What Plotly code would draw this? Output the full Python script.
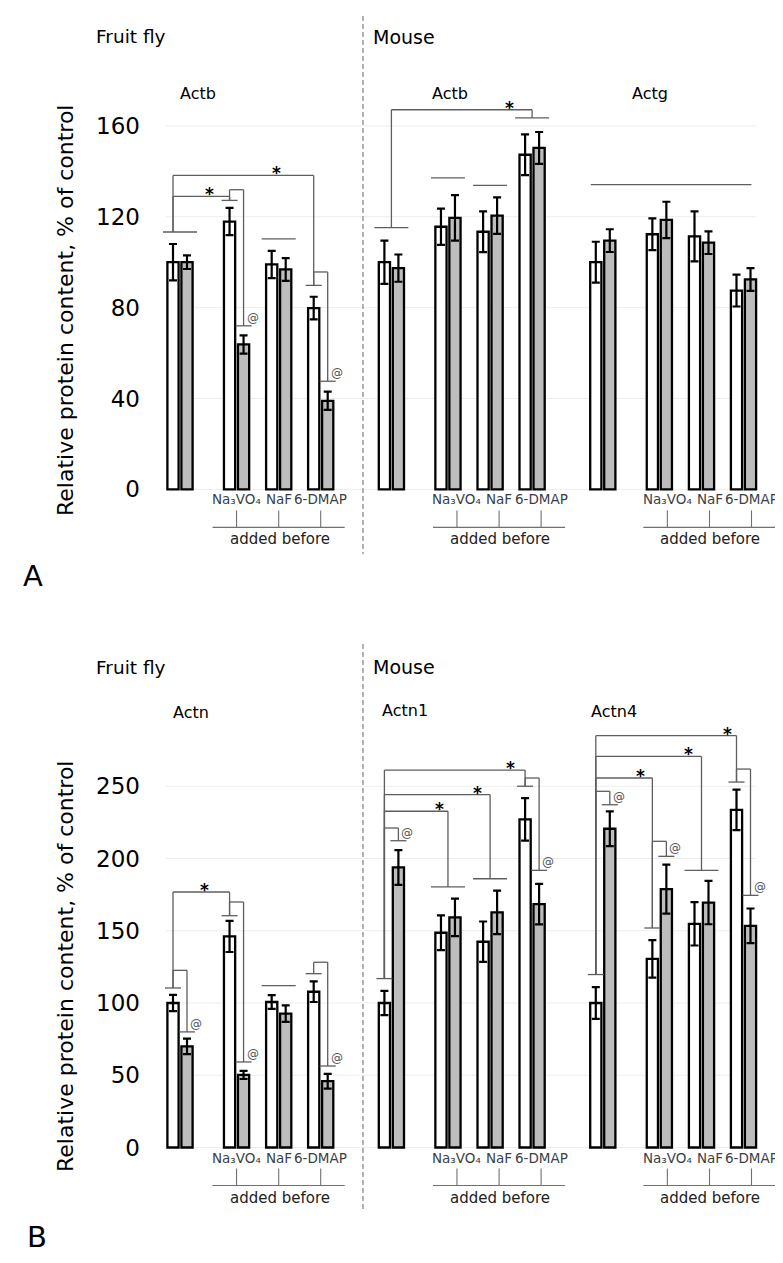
import plotly.graph_objects as go

# ---------------- data ----------------
CATS = ["control", "Na3VO4", "NaF", "6-DMAP"]
TREAT_LABELS = ["Na\u2083VO\u2084", "NaF", "6-DMAP"]
Y_TICKS_A = [0, 40, 80, 120, 160]
Y_TICKS_B = [0, 50, 100, 150, 200, 250]

# Panel A, fruit fly Actb
A_FLY_W = [100, 117.9, 99.0, 79.8]
A_FLY_WE = [8, 6, 6, 5]
A_FLY_G = [100, 63.8, 96.8, 39.0]
A_FLY_GE = [3, 4, 5, 4]
# Panel A, mouse Actb
A_ACTB_W = [100, 115.6, 113.4, 147.3]
A_ACTB_WE = [9.5, 8, 9, 9]
A_ACTB_G = [97.4, 119.5, 120.5, 150.3]
A_ACTB_GE = [6, 10, 8, 7]
# Panel A, mouse Actg
A_ACTG_W = [100, 112.3, 111.4, 87.5]
A_ACTG_WE = [9, 7, 11, 7]
A_ACTG_G = [109.5, 118.6, 108.6, 92.4]
A_ACTG_GE = [5, 8, 5, 5]
# Panel B, fruit fly Actn
B_FLY_W = [100, 146.1, 100.7, 107.8]
B_FLY_WE = [5.6, 10.8, 4.8, 7.1]
B_FLY_G = [70.0, 50.2, 92.7, 45.9]
B_FLY_GE = [5.4, 2.8, 5.7, 5.1]
# Panel B, mouse Actn1
B_ACTN1_W = [100, 148.6, 142.4, 227.1]
B_ACTN1_WE = [8.4, 12, 14, 14.7]
B_ACTN1_G = [193.8, 159.3, 162.7, 168.4]
B_ACTN1_GE = [12, 13, 15, 14]
# Panel B, mouse Actn4
B_ACTN4_W = [100, 130.5, 154.8, 233.6]
B_ACTN4_WE = [11, 13, 15, 14]
B_ACTN4_G = [220.6, 178.8, 169.5, 153.4]
B_ACTN4_GE = [12, 17, 15, 12]

# significance marks: caps (category, bar kind, height) and brackets
A_FLY_CAPS = [(0, "P", 113.3), (1, "W", 127.2), (1, "G", 72.0), (2, "P", 110.3), (3, "W", 89.8), (3, "G", 47.6)]
A_FLY_BR = [(0, "W", 1, "W", 129.0, "*"), (0, "W", 3, "W", 138.2, "*"),
            (1, "W", 1, "G", 131.9, "@"), (3, "W", 3, "G", 95.7, "@")]
A_ACTB_CAPS = [(0, "P", 115.2), (1, "P", 137.1), (2, "P", 133.8), (3, "P", 163.5)]
A_ACTB_BR = [(0, "P", 3, "P", 167.1, "*")]
A_ACTG_SPAN = [134.1]
B_FLY_CAPS = [(0, "W", 110.4), (0, "G", 80.0), (1, "W", 160.4), (1, "G", 59.2), (2, "P", 112.0), (3, "W", 120.3), (3, "G", 56.4)]
B_FLY_BR = [(0, "W", 1, "W", 176.8, "*"), (0, "W", 0, "G", 122.6, "@"),
            (1, "W", 1, "G", 169.9, "@"), (3, "W", 3, "G", 128.2, "@")]
B_ACTN1_CAPS = [(0, "W", 116.9), (0, "G", 212.3), (1, "P", 180.3), (2, "P", 186.0), (3, "W", 250.0), (3, "G", 191.8)]
B_ACTN1_BR = [(0, "W", 0, "G", 221.1, "@"), (0, "W", 1, "P", 232.7, "*"), (0, "W", 2, "P", 244.2, "*"),
              (0, "W", 3, "W", 261.2, "*"), (3, "W", 3, "G", 255.7, "@")]
B_ACTN4_CAPS = [(0, "W", 119.7), (0, "G", 237.2), (1, "W", 151.9), (1, "G", 201.5), (2, "P", 191.8), (3, "W", 252.9), (3, "G", 174.5)]
B_ACTN4_BR = [(0, "W", 0, "G", 246.5, "@"), (0, "W", 1, "W", 255.7, "*"), (0, "W", 2, "P", 270.7, "*"),
              (0, "W", 3, "W", 285.0, "*"), (1, "W", 1, "G", 211.9, "@"), (3, "W", 3, "G", 261.9, "@")]

# ---------------- layout / style ----------------
W_PX, H_PX = 783, 1263
UNIT = 14.0        # px per x unit
X0_PX = 172.0      # px of x = 0
CAT_OFFS = [0, 4.04, 7.05, 10.05]
FONT = "DejaVu Sans"
LINE_C = "#5e5e5e"
GREY_FILL = "#bdbdbd"

PANELS = {
    "A": dict(xref="x", yref="y", zero=481.4, ppu=2.272, top=0, bottom=600, ticks=Y_TICKS_A),
    "B": dict(xref="x2", yref="y2", zero=1139.5, ppu=1.445, top=600, bottom=1263, ticks=Y_TICKS_B),
}

GROUPS = [
    dict(panel="A", off=0.0, W=A_FLY_W, WE=A_FLY_WE, G=A_FLY_G, GE=A_FLY_GE, caps=A_FLY_CAPS, br=A_FLY_BR,
         span=None, star_dx=[-20, -37], lab_dx=0, title="Actb", title_xy=(190, 85)),
    dict(panel="A", off=15.1, W=A_ACTB_W, WE=A_ACTB_WE, G=A_ACTB_G, GE=A_ACTB_GE, caps=A_ACTB_CAPS, br=A_ACTB_BR,
         span=None, star_dx=[-23], lab_dx=9, title="Actb", title_xy=(442, 86)),
    dict(panel="A", off=30.2, W=A_ACTG_W, WE=A_ACTG_WE, G=A_ACTG_G, GE=A_ACTG_GE, caps=[], br=[],
         span=A_ACTG_SPAN, star_dx=[], lab_dx=8, title="Actg", title_xy=(642, 85)),
    dict(panel="B", off=0.0, W=B_FLY_W, WE=B_FLY_WE, G=B_FLY_G, GE=B_FLY_GE, caps=B_FLY_CAPS, br=B_FLY_BR,
         span=None, star_dx=[-25], lab_dx=0, title="Actn", title_xy=(183, 704)),
    dict(panel="B", off=15.1, W=B_ACTN1_W, WE=B_ACTN1_WE, G=B_ACTN1_G, GE=B_ACTN1_GE, caps=B_ACTN1_CAPS, br=B_ACTN1_BR,
         span=None, star_dx=[-8, -13, -15], lab_dx=9, title="Actn1", title_xy=(397, 702)),
    dict(panel="B", off=30.2, W=B_ACTN4_W, WE=B_ACTN4_WE, G=B_ACTN4_G, GE=B_ACTN4_GE, caps=B_ACTN4_CAPS, br=B_ACTN4_BR,
         span=None, star_dx=[-12, -13, -9], lab_dx=8, title="Actn4", title_xy=(606, 703)),
]

fig = go.Figure()
shapes = []
annotations = []


def px(v):
    return v / UNIT


def px_x(p):
    return p / W_PX


def px_y(p):
    return 1 - p / H_PX


def xunit_to_paper(x):
    return px_x(X0_PX + x * UNIT)


def add_line(x0, y0, x1, y1, xr, yr, color=LINE_C, width=1.3, dash=None, layer="above"):
    shapes.append(dict(type="line", x0=x0, y0=y0, x1=x1, y1=y1, xref=xr, yref=yr, layer=layer,
                       line=dict(color=color, width=width, dash=dash)))


def xpos(off, i, kind):
    base = off + CAT_OFFS[i]
    return base + {"W": -0.5, "G": 0.5, "P": 0.0}[kind]


first_off = min(g["off"] for g in GROUPS)
last_off = max(g["off"] for g in GROUPS)
grid_x0 = first_off + CAT_OFFS[0] - 1.0
grid_x1 = last_off + CAT_OFFS[-1] + 0.92

# gridlines
for key, p in PANELS.items():
    for t in p["ticks"]:
        add_line(grid_x0, t, grid_x1, t, p["xref"], p["yref"], color="#ededed", width=1, layer="below")

for g in GROUPS:
    p = PANELS[g["panel"]]
    xr, yr, ppu = p["xref"], p["yref"], p["ppu"]
    xw = [xpos(g["off"], i, "W") for i in range(4)]
    xg = [xpos(g["off"], i, "G") for i in range(4)]
    for xs, ys, es, fill in ((xw, g["W"], g["WE"], "white"), (xg, g["G"], g["GE"], GREY_FILL)):
        fig.add_trace(go.Bar(
            x=xs, y=ys, width=0.8, xaxis=xr, yaxis=yr,
            marker=dict(color=fill, line=dict(color="black", width=2.3)),
            error_y=dict(type="data", array=es, visible=True, color="black", thickness=2.2, width=4),
            showlegend=False, hoverinfo="skip"))

    # caps
    cap_h = {}
    for (i, kind, h) in g["caps"]:
        cap_h[(i, kind)] = h
        xc = xpos(g["off"], i, kind)
        half = px(17) if kind == "P" else px(8)
        add_line(xc - half, h, xc + half, h, xr, yr)

    def start_h(i, kind):
        if (i, kind) in cap_h:
            return cap_h[(i, kind)]
        return cap_h[(i, "P")]

    # brackets
    si = 0
    for (i1, k1, i2, k2, H, lab) in g["br"]:
        x1 = xpos(g["off"], i1, k1)
        x2 = xpos(g["off"], i2, k2)
        h1 = start_h(i1, k1)
        h2 = start_h(i2, k2)
        add_line(x1, h1, x1, H, xr, yr)
        add_line(x1, H, x2, H, xr, yr)
        add_line(x2, H, x2, h2, xr, yr)
        if lab == "*":
            annotations.append(dict(x=x2 + px(g["star_dx"][si]), y=H, xref=xr, yref=yr, text="*",
                                    showarrow=False, yanchor="middle", yshift=2,
                                    font=dict(family=FONT, size=17, color="black", weight="bold")))
            si += 1
        else:
            annotations.append(dict(x=x2 + px(9), y=h2, xref=xr, yref=yr, text="@",
                                    showarrow=False, yanchor="middle", yshift=8,
                                    font=dict(family=FONT, size=12, color="#50565e")))

    # wide span line over a whole group
    if g["span"]:
        for h in g["span"]:
            add_line(g["off"] + CAT_OFFS[0] - px(12), h, g["off"] + CAT_OFFS[-1] + px(8), h, xr, yr)

    # treatment labels and "added before" bracket (below the zero line)
    lab_x = [g["off"] + CAT_OFFS[i] + px(g["lab_dx"]) for i in range(1, 4)]
    for lx, txt in zip(lab_x, TREAT_LABELS):
        annotations.append(dict(x=xunit_to_paper(lx), y=px_y(p["zero"] + 10), xref="paper", yref="paper",
                                text=txt, showarrow=False, xanchor="center", yanchor="middle",
                                font=dict(family=FONT, size=13.5, color="#3a3f45")))
        add_line(lx, -21 / ppu, lx, -38 / ppu, xr, yr, color="#707070", width=1.1)
    add_line(lab_x[0] - px(24), -38 / ppu, lab_x[-1] + px(24), -38 / ppu, xr, yr, color="#707070", width=1.1)
    annotations.append(dict(x=xunit_to_paper((lab_x[0] + lab_x[-1]) / 2 + px(1)), y=px_y(p["zero"] + 50),
                            xref="paper", yref="paper", text="added before",
                            showarrow=False, xanchor="center", yanchor="middle",
                            font=dict(family=FONT, size=15, color="#222222")))

    # gene title
    tx, ty = g["title_xy"]
    annotations.append(dict(x=px_x(tx), y=px_y(ty), xref="paper", yref="paper", text=g["title"],
                            showarrow=False, xanchor="center", yanchor="middle",
                            font=dict(family=FONT, size=16, color="black")))

# panel headings, letters, y titles, separators
for key, sp, fy, ytc, lx, ly, d0, d1 in (("A", "A", 28.6, 303, 25, 568, 8, 546),
                                          ("B", "B", 659, 959, 29, 1229, 636, 1204)):
    annotations.append(dict(x=px_x(86), y=px_y(fy), xref="paper", yref="paper", text="Fruit fly",
                            showarrow=False, xanchor="left", yanchor="middle",
                            font=dict(family=FONT, size=18.5, color="black")))
    annotations.append(dict(x=px_x(363), y=px_y(fy), xref="paper", yref="paper", text="Mouse",
                            showarrow=False, xanchor="left", yanchor="middle",
                            font=dict(family=FONT, size=19, color="black")))
    annotations.append(dict(x=px_x(57), y=px_y(ytc), xref="paper", yref="paper",
                            text="Relative protein content, % of control", textangle=-90,
                            showarrow=False, xanchor="center", yanchor="middle",
                            font=dict(family=FONT, size=22, color="black")))
    annotations.append(dict(x=px_x(lx), y=px_y(ly), xref="paper", yref="paper", text=sp,
                            showarrow=False, xanchor="center", yanchor="middle",
                            font=dict(family=FONT, size=29, color="black")))
    shapes.append(dict(type="line", xref="paper", yref="paper", x0=px_x(355), x1=px_x(355),
                       y0=px_y(d0), y1=px_y(d1), line=dict(color="#8a8a8a", width=1.3, dash="5px,3px")))

xrange_ = [-X0_PX / UNIT, (W_PX - X0_PX) / UNIT]


def yaxis_cfg(p):
    return dict(domain=[1 - p["bottom"] / H_PX, 1 - p["top"] / H_PX],
                range=[(p["zero"] - p["bottom"]) / p["ppu"], (p["zero"] - p["top"]) / p["ppu"]],
                tickvals=p["ticks"], ticktext=[str(t) for t in p["ticks"]],
                showgrid=False, zeroline=False, showline=False, ticks="",
                anchor="free", position=136 / W_PX, ticklabelstandoff=4,
                tickfont=dict(family=FONT, size=23, color="black"), fixedrange=True)


fig.update_layout(
    width=W_PX, height=H_PX,
    margin=dict(l=0, r=0, t=0, b=0),
    paper_bgcolor="white", plot_bgcolor="rgba(0,0,0,0)",
    barmode="overlay", showlegend=False,
    xaxis=dict(domain=[0, 1], range=xrange_, visible=False, anchor="y", fixedrange=True),
    xaxis2=dict(domain=[0, 1], range=xrange_, visible=False, anchor="y2", fixedrange=True),
    yaxis=yaxis_cfg(PANELS["A"]),
    yaxis2=yaxis_cfg(PANELS["B"]),
    shapes=shapes, annotations=annotations,
)

fig.write_html("out.html")
